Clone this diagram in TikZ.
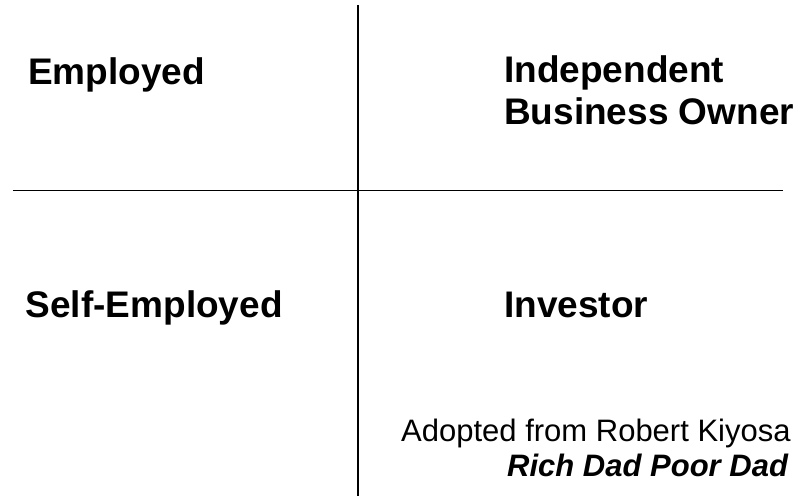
\documentclass[tikz,border=0pt]{standalone}
\usepackage{fontspec}
\setmainfont{Liberation Sans}
\begin{document}
\begin{tikzpicture}[x=1pt,y=1pt,
  quadlabel/.style={anchor=base west,inner sep=0pt,font=\fontsize{37}{42}\selectfont\bfseries},
  citelabel/.style={anchor=base west,inner sep=0pt,font=\fontsize{31}{36}\selectfont},
  axisline/.style={line width=1.8pt,black}]
  \useasboundingbox (0,0) rectangle (800,496);
  % quadrant axes
  \coordinate (htop) at (358,491);
  \coordinate (hbot) at (358,0);
  \coordinate (vleft) at (13,305.5);
  \coordinate (vright) at (783,305.5);
  \draw[axisline] (htop) -- (hbot);
  \draw[axisline] (vleft) -- (vright);
  % quadrant labels
  \node[quadlabel] (emp) at (28,411) {Employed};
  \node[quadlabel] (ind) at (504,413) {Independent};
  \node[quadlabel] (bus) at (504,371) {Business Owner};
  \node[quadlabel] (self) at (25.5,179) {Self-Employed};
  \node[quadlabel] (inv) at (504,179) {Investor};
  % source note
  \node[citelabel] (src) at (401,55) {Adopted from Robert Kiyosa};
  \node[citelabel,font=\fontsize{31}{36}\selectfont\bfseries\itshape] (book) at (507,20) {Rich Dad Poor Dad};
\end{tikzpicture}
\end{document}
